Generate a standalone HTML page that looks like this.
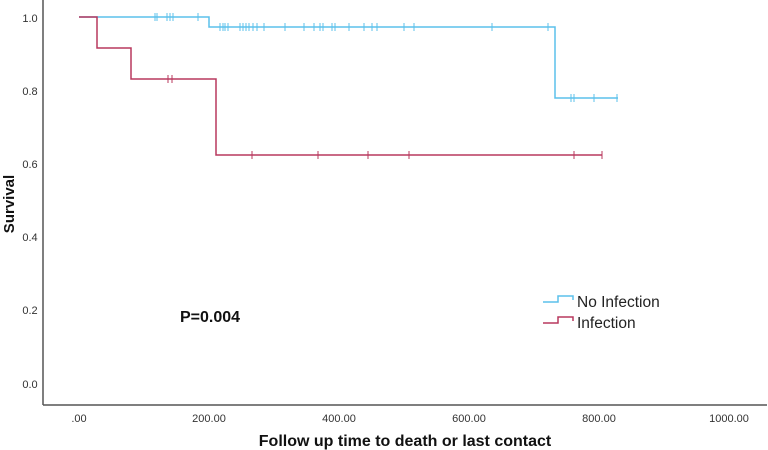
<!DOCTYPE html>
<html><head><style>body{margin:0;background:#fff}svg{display:block}</style></head><body>
<svg width="768" height="450" xmlns="http://www.w3.org/2000/svg" font-family="Liberation Sans, sans-serif">
<line x1="43" y1="0" x2="43" y2="405" stroke="#555" stroke-width="1.5"/>
<line x1="43" y1="405" x2="767" y2="405" stroke="#555" stroke-width="1.5"/>
<g font-size="11" fill="#333" text-anchor="middle">
<text x="30" y="22">1.0</text><text x="30" y="95">0.8</text><text x="30" y="168">0.6</text>
<text x="30" y="241">0.4</text><text x="30" y="314">0.2</text><text x="30" y="388">0.0</text>
<text x="79" y="422">.00</text><text x="209" y="422">200.00</text><text x="339" y="422">400.00</text>
<text x="469" y="422">600.00</text><text x="599" y="422">800.00</text><text x="729" y="422">1000.00</text>
</g>
<text x="405" y="446" font-size="16" font-weight="bold" text-anchor="middle" fill="#111">Follow up time to death or last contact</text>
<text transform="translate(14,204) rotate(-90)" font-size="15" font-weight="bold" text-anchor="middle" fill="#111">Survival</text>
<text x="180" y="322" font-size="16" font-weight="bold" fill="#111">P=0.004</text>
<path d="M79,17 H209 V27 H555 V98 H618" fill="none" stroke="#5bc0eb" stroke-width="1.5"/>
<path d="M79,17 H97 V48 H131 V79 H216 V155 H602" fill="none" stroke="#b8385e" stroke-width="1.5"/>
<g stroke="#5bc0eb" stroke-width="1">
<path d="M155,13v8M157,13v8M167,13v8M170,13v8M173,13v8M198,13v8"/>
<path d="M220,23v8M223,23v8M225,23v8M228,23v8M240,23v8M243,23v8M246,23v8M249,23v8M253,23v8M257,23v8M264,23v8M285,23v8M304,23v8M314,23v8M320,23v8M323,23v8M332,23v8M335,23v8M349,23v8M364,23v8M372,23v8M377,23v8M404,23v8M414,23v8M492,23v8M548,23v8"/>
<path d="M571,94v8M574,94v8M594,94v8M617,94v8"/>
</g>
<g stroke="#b8385e" stroke-width="1">
<path d="M168,75v8M172,75v8M252,151v8M318,151v8M368,151v8M409,151v8M574,151v8M602,151v8"/>
</g>
<path d="M543,302 H558 V296 H573 V300" fill="none" stroke="#5bc0eb" stroke-width="1.5"/>
<path d="M543,323 H558 V317 H573 V321" fill="none" stroke="#b8385e" stroke-width="1.5"/>
<g font-size="15.5" fill="#222">
<text x="577" y="307">No Infection</text>
<text x="577" y="328">Infection</text>
</g>
</svg>
</body></html>
